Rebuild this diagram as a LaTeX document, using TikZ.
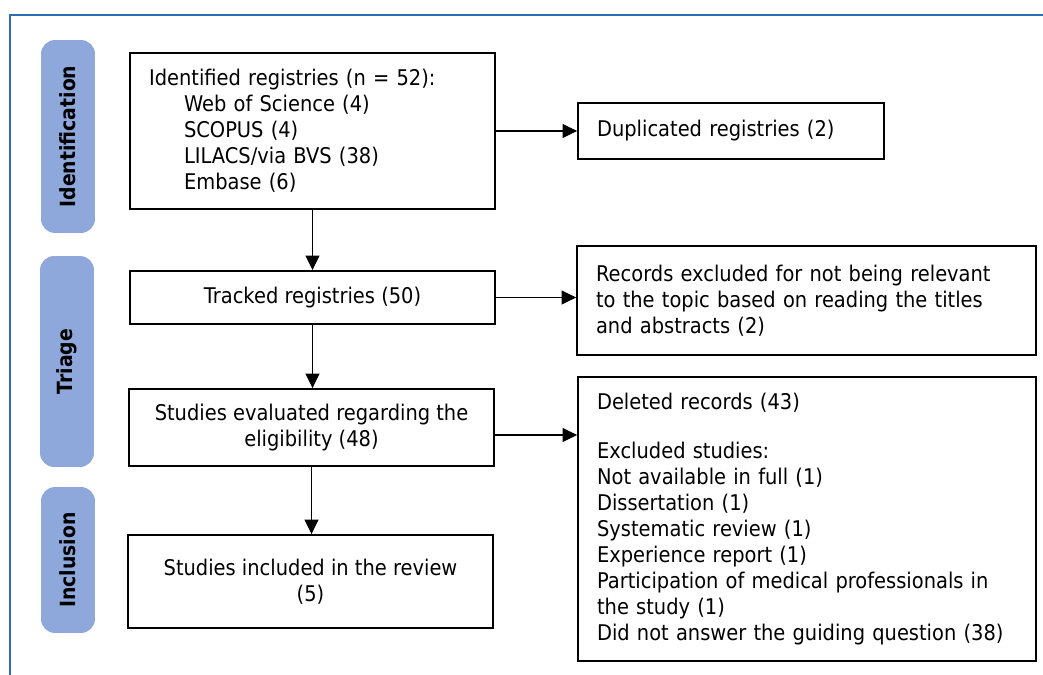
\documentclass[tikz,border=0pt]{standalone}
\usepackage{fontspec}
\setmainfont{DejaVu Sans}[FakeStretch=0.9]
\usepackage{tikz}
\usetikzlibrary{
  arrows.meta,
  positioning
}
\definecolor{frameblue}{RGB}{46,109,180}
\definecolor{phaseblue}{RGB}{142,168,219}
\tikzset{
  box/.style={
    draw, line width=1.1pt, inner sep=0pt,
    font=\fontsize{12.3}{14.8}\selectfont
  },
  phase/.style={
    fill=phaseblue, rounded corners=8pt, rotate=90, inner sep=0pt,
    minimum height=1.08cm, font=\fontsize{11.9}{13}\selectfont\bfseries
  },
  flow/.style={-{Triangle[length=2.9mm, width=2.8mm]}, line width=0.6pt},
  frame/.style={draw=frameblue, line width=1.1pt},
}

\begin{document}
\begin{tikzpicture}[x=0.02cm, y=-0.02cm]
\useasboundingbox (0,0) rectangle (1043,675);

% --- outer frame (top and left edge only) ---
\draw[frame] (10,675) -- (10,15) -- (1043,15);

% --- phase labels on the left ---
\node[phase, minimum width=3.86cm] (ident) at (68,136.5) {Identification};
\node[phase, minimum width=4.22cm] (triage) at (67,361.5) {Triage};
\node[phase, minimum width=2.92cm] (incl) at (68,560) {Inclusion};

% --- main column ---
\node[box, minimum width=7.3cm, minimum height=3.12cm,
      text width=6.54cm, align=left] (identified) at (312.5,131)
  {Identified registries (n = 52):\\
   \hspace*{0.7cm}Web of Science (4)\\
   \hspace*{0.7cm}SCOPUS (4)\\
   \hspace*{0.7cm}LILACS/via BVS (38)\\
   \hspace*{0.7cm}Embase (6)};
\node[box, minimum width=7.3cm, minimum height=1.06cm,
      align=center] (tracked) at (312.5,297.5) {Tracked registries (50)};
\node[box, minimum width=7.3cm, minimum height=1.54cm,
      align=center] (evaluated) at (311.5,427.5)
  {Studies evaluated regarding the\\eligibility (48)};
\node[box, minimum width=7.3cm, minimum height=1.86cm,
      align=center] (included) at (310.5,581.5)
  {Studies included in the review\\(5)};

% --- right column ---
\node[box, minimum width=6.12cm, minimum height=1.12cm,
      text width=5.36cm, align=left] (duplicated) at (731,131)
  {Duplicated registries (2)};
\node[box, minimum width=9.18cm, minimum height=2.18cm,
      text width=8.42cm, align=left] (irrelevant) at (806.5,300.5)
  {Records excluded for not being relevant\\
   to the topic based on reading the titles\\
   and abstracts (2)};
\node[box, minimum width=9.16cm, minimum height=5.68cm,
      text width=8.4cm, align=left] (deleted) at (807,519)
  {Deleted records (43)\\[0.46cm]
   Excluded studies:\\
   Not available in full (1)\\
   Dissertation (1)\\
   Systematic review (1)\\
   Experience report (1)\\
   Participation of medical professionals in\\
   the study (1)\\
   Did not answer the guiding question (38)};

% --- arrows ---
\draw[flow] (identified.south) -- (identified.south |- tracked.north);
\draw[flow] (tracked.south) -- (tracked.south |- evaluated.north);
\draw[flow] (evaluated.south) -- (evaluated.south |- included.north);
\draw[flow] (identified.east) -- (duplicated.west);
\draw[flow] (tracked.east) -- (tracked.east -| irrelevant.west);
\draw[flow] ([yshift=-0.15cm]evaluated.east) -- ([yshift=-0.15cm]evaluated.east -| deleted.west);

\end{tikzpicture}
\end{document}
